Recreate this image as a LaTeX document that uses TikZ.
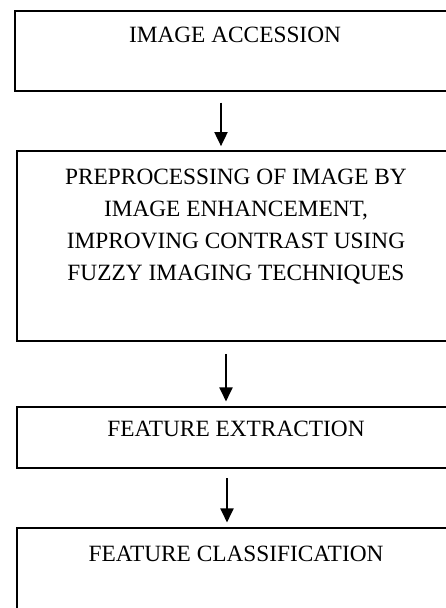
\documentclass[tikz,border=0pt]{standalone}
\usepackage{fontspec}
\setmainfont{Liberation Serif}
\usetikzlibrary{arrows.meta}
\usetikzlibrary{calc}
\tikzset{fcp/.style={
  x=0.75pt,
  y=-0.75pt
}}
\tikzset{stepbox/.style={
  draw,
  line width=1.3pt,
  shape=rectangle,
  inner sep=0pt,
}}
\tikzset{steptxt/.style={
  anchor=north,
  inner sep=0pt,
  align=center,
  font=\fontsize{17.5pt}{23.8pt}\selectfont,
}}
\tikzset{flw/.style={
  line width=1.4pt,
  -{Triangle[width=9.75pt,length=10.5pt]}
}}

\begin{document}
\begin{tikzpicture}[fcp]

    %% Page frame
    \path[use as bounding box,clip] (0,0) rectangle (446,608);

    % Boxes
    \node[stepbox,minimum width=330pt,minimum height=60pt] (acc) at (235,51) {};
    \node[stepbox,minimum width=328.5pt,minimum height=142.5pt] (pre) at (236,246) {};
    \node[stepbox,minimum width=328.5pt,minimum height=45.75pt] (ext) at (236,437.5) {};
    \node[stepbox,minimum width=328.5pt,minimum height=75pt] (cls) at (236,578) {};

    % Texts
    \node[steptxt] (acct) at ([yshift=-12.75pt]acc.north) {IMAGE ACCESSION};
    \node[steptxt] (pret) at ([yshift=-14.25pt]pre.north)
      {PREPROCESSING OF IMAGE BY\\ IMAGE ENHANCEMENT,\\
       IMPROVING CONTRAST USING\\ FUZZY IMAGING TECHNIQUES};
    \node[steptxt] (extt) at ([yshift=-11.25pt]ext.north) {FEATURE EXTRACTION};
    \node[steptxt] (clst) at ([yshift=-14.25pt]cls.north) {FEATURE CLASSIFICATION};

    %% Arrows
    \draw[flw,shorten <=8pt,shorten >=3pt]
      ([xshift=-10.5pt]acc.south) -- ([xshift=-10.5pt]acc.south |- pre.north);
    \draw[flw,shorten <=9pt,shorten >=3.5pt]
      ([xshift=-7.5pt]pre.south) -- ([xshift=-7.5pt]pre.south |- ext.north);
    \draw[flw,shorten <=7pt,shorten >=3.5pt]
      ([xshift=-6.75pt]ext.south) -- ([xshift=-6.75pt]ext.south |- cls.north);

\end{tikzpicture}
\end{document}
